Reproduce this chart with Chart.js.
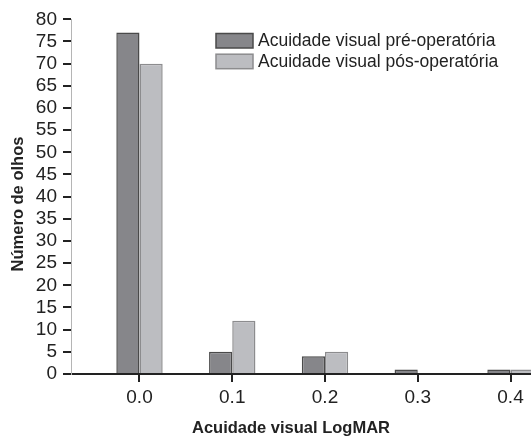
<!DOCTYPE html>
<html><head><meta charset="utf-8">
<script src="https://cdn.jsdelivr.net/npm/chart.js@4"></script>
<style>html,body{margin:0;padding:0;background:#fff}#wrap{width:531px;height:437px}</style>
</head><body><div id="wrap"><canvas id="c" width="531" height="437"></canvas></div>
<script>
const categories = [0.0, 0.1, 0.2, 0.3, 0.4];
const xTickLabels = ['0.0', '0.1', '0.2', '0.3', '0.4'];
const preOp = [77, 5, 4, 1, 1];
const postOp = [70, 12, 5, 0, 1];
const seriesNames = ['Acuidade visual pré-operatória', 'Acuidade visual pós-operatória'];
const yTickValues = [0, 5, 10, 15, 20, 25, 30, 35, 40, 45, 50, 55, 60, 65, 70, 75, 80];
const xTitle = 'Acuidade visual LogMAR';
const yTitle = 'Número de olhos';

const FONT = '"Liberation Sans", Arial, Helvetica, sans-serif';
const INK = '#222222';

const overlay = {
  id: 'overlay',
  afterDraw(chart) {
    const ctx = chart.ctx;
    ctx.save();
    // legend
    chart.data.datasets.forEach((ds, i) => {
      const bx = 216, by = 33.5 + i * 20.7, bw = 37, bh = 14.5;
      ctx.fillStyle = ds.backgroundColor;
      ctx.fillRect(bx, by, bw, bh);
      ctx.lineWidth = 1.5;
      ctx.strokeStyle = ds.borderColor;
      ctx.strokeRect(bx, by, bw, bh);
      ctx.fillStyle = INK;
      ctx.font = '17.5px ' + FONT;
      ctx.textAlign = 'left';
      ctx.textBaseline = 'middle';
      ctx.fillText(ds.label, bx + bw + 5, by + bh / 2 + 0.5);
    });
    // axis titles
    ctx.font = 'bold 16.5px ' + FONT;
    ctx.fillStyle = INK;
    ctx.textAlign = 'center';
    ctx.textBaseline = 'middle';
    ctx.fillText(xTitle, 291, 428.5);
    ctx.translate(18.5, 204);
    ctx.rotate(-Math.PI / 2);
    ctx.fillText(yTitle, 0, 0);
    ctx.restore();
  }
};

new Chart(document.getElementById('c'), {
  type: 'bar',
  data: {
    datasets: [
      {
        label: seriesNames[0],
        data: categories.map((c, i) => ({ x: c, y: preOp[i] })),
        backgroundColor: '#86868a',
        borderColor: '#4a4a4a',
        borderWidth: 1.5
      },
      {
        label: seriesNames[1],
        data: categories.map((c, i) => ({ x: c, y: postOp[i] })),
        backgroundColor: '#bcbdc1',
        borderColor: '#8c8c8e',
        borderWidth: 1.5
      }
    ]
  },
  options: {
    responsive: false,
    devicePixelRatio: 1,
    animation: false,
    layout: { padding: { top: 19.3, left: 0, right: 0, bottom: 0 } },
    datasets: { bar: { barPercentage: 1, categoryPercentage: 0.5 } },
    plugins: { legend: { display: false }, tooltip: { enabled: false } },
    scales: {
      x: {
        type: 'linear',
        min: -0.07385,
        max: 0.4221,
        offset: false,
        z: 1,
        afterFit: s => { s.height = 63; },
        afterBuildTicks: s => { s.ticks = categories.map(v => ({ value: v })); },
        grid: { offset: false, drawOnChartArea: false, drawTicks: true, tickLength: 8, color: INK, lineWidth: 2 },
        border: { display: true, color: INK, width: 2 },
        ticks: {
          font: { family: FONT, size: 19 },
          color: INK,
          padding: 4,
          maxRotation: 0,
          autoSkip: false,
          callback: (v, i) => xTickLabels[i]
        }
      },
      y: {
        type: 'linear',
        min: 0,
        max: 80,
        afterFit: s => { s.width = 71; },
        afterBuildTicks: s => { s.ticks = yTickValues.map(v => ({ value: v })); },
        grid: { drawOnChartArea: false, drawTicks: true, tickLength: 8, color: INK, lineWidth: 2 },
        border: { display: true, color: '#b5b5b5', width: 1 },
        ticks: {
          font: { family: FONT, size: 19 },
          color: INK,
          padding: 6,
          autoSkip: false,
          callback: v => String(v)
        }
      }
    }
  },
  plugins: [overlay]
});
</script>
</body></html>
